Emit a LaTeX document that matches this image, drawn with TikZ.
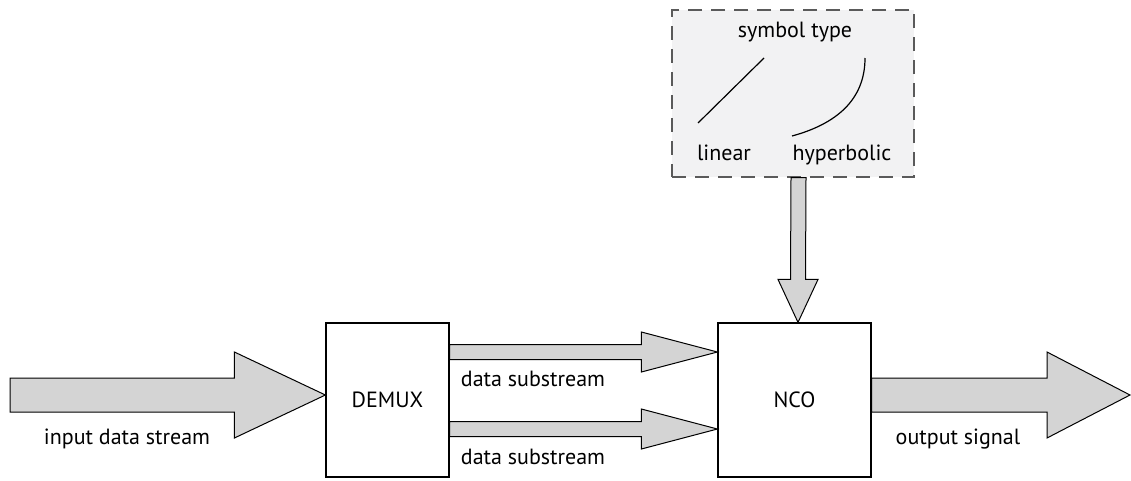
\documentclass[tikz,border=0pt]{standalone}
\usepackage{fontspec}
\setmainfont{PT Sans}
\usetikzlibrary{calc}
\definecolor{arrowfill}{HTML}{D4D4D4}
\definecolor{panelfill}{HTML}{F2F2F3}
\definecolor{dashgray}{HTML}{5A5A5A}
% horizontal block arrow: start, tip, half shaft, half head, head length
\newcommand\harrow[5]{%
  \draw[fatarrow] ($(#1)+(0,-#3)$) -- ($(#2)+(-#5,-#3)$) -- ($(#2)+(-#5,-#4)$)
    -- (#2) -- ($(#2)+(-#5,#4)$) -- ($(#2)+(-#5,#3)$) -- ($(#1)+(0,#3)$) -- cycle;}
% vertical block arrow pointing down
\newcommand\varrow[5]{%
  \draw[fatarrow] ($(#1)+(-#3,0)$) -- ($(#2)+(-#3,-#5)$) -- ($(#2)+(-#4,-#5)$)
    -- (#2) -- ($(#2)+(#4,-#5)$) -- ($(#2)+(#3,-#5)$) -- ($(#1)+(#3,0)$) -- cycle;}
\begin{document}
\begin{tikzpicture}[x=1pt,y=-1pt,
  font=\fontsize{22}{24}\selectfont,
  blockbox/.style={draw,line width=1.2pt,fill=white,inner sep=0pt},
  fatarrow/.style={draw,line width=1pt,fill=arrowfill,line join=miter},
  panel/.style={draw=dashgray,fill=panelfill,line width=1.2pt,dash pattern=on 14pt off 9pt,inner sep=0pt},
  lbl/.style={anchor=base,inner sep=0pt}]
\useasboundingbox (0,0) rectangle (1131,480);

% blocks
\node[blockbox,minimum width=123pt,minimum height=154pt] (demux) at (387.5,400) {DEMUX};
\node[blockbox,minimum width=153pt,minimum height=154pt] (nco) at (794.5,400) {NCO};
\node[panel,minimum width=242pt,minimum height=167pt] (panel) at (793,93.5) {};

% symbol type selector
\node[lbl] (stype) at (795,37) {symbol type};
\node[lbl] (lin) at (724,160) {linear};
\node[lbl] (hyp) at (842,160) {hyperbolic};
\coordinate (linA) at (698,123);
\coordinate (linB) at (764,58);
\coordinate (hypA) at (792,136);
\coordinate (hypB) at (865,58);
\draw[line width=1.2pt] (linA) -- (linB);
\draw[line width=1.2pt] (hypA) .. controls (836,124) and (865,100) .. (hypB);

% input and output streams
\coordinate (src) at (10,395);
\coordinate (inTip) at ($(demux.west)+(0,-5)$);
\harrow{src}{inTip}{17}{43}{91}
\coordinate (outStart) at ($(nco.east)+(0,-5)$);
\coordinate (sink) at (1130,395);
\harrow{outStart}{sink}{17}{43}{83}

% substreams
\coordinate (s1a) at ($(demux.east)+(0,-48)$);
\coordinate (s1b) at ($(nco.west)+(0,-48)$);
\harrow{s1a}{s1b}{7.5}{20}{76}
\coordinate (s2a) at ($(demux.east)+(0,29)$);
\coordinate (s2b) at ($(nco.west)+(0,29)$);
\harrow{s2a}{s2b}{7.5}{20}{76}

% control arrow into the oscillator
\coordinate (ctlA) at ($(panel.south)+(5.5,0)$);
\coordinate (ctlB) at ($(nco.north)+(3.5,0)$);
\varrow{ctlA}{ctlB}{7.5}{20}{43}

% labels
\node[lbl] (lIn) at (127,444) {input data stream};
\node[lbl] (lS1) at (533,386) {data substream};
\node[lbl] (lS2) at (533,464) {data substream};
\node[lbl] (lOut) at (958,444) {output signal};
\end{tikzpicture}
\end{document}
